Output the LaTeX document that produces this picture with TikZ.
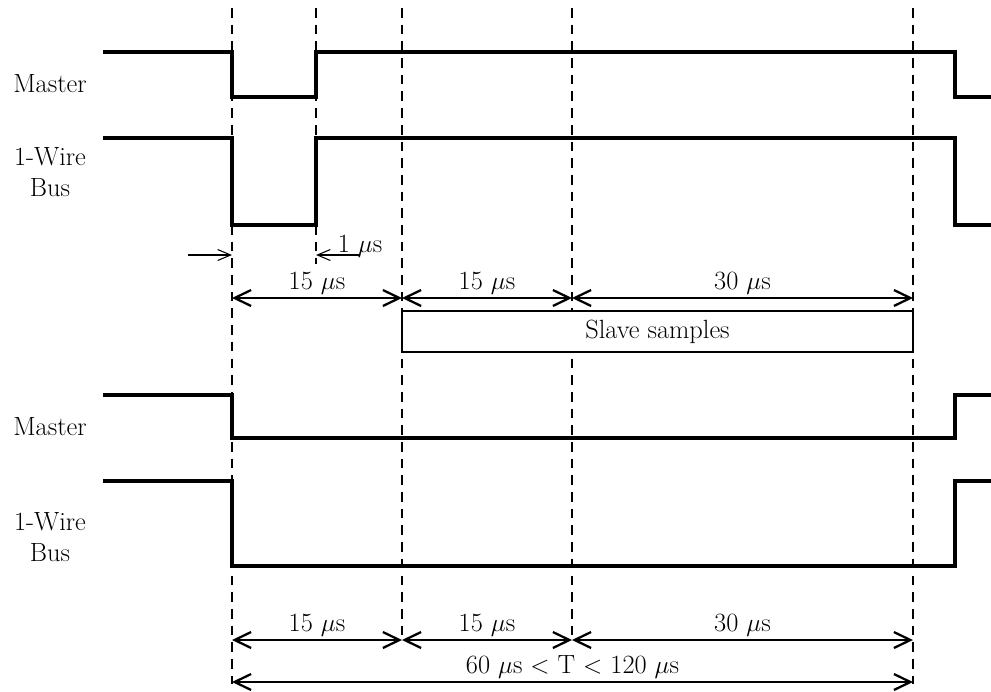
\documentclass[tikz,border=0pt]{standalone}
\usepackage{tikz}
\usetikzlibrary{arrows.meta}
\tikzstyle{signal} = [
    line width=1.9pt,
    line join=miter
]
\tikzstyle{marker} = [
    line width=1pt,
    dash pattern=on 5.5pt off 4pt
]
\tikzstyle{dimension} = [
    line width=1.3pt,
    {Straight Barb[length=3.3mm,width=3.2mm]}-{Straight Barb[length=3.3mm,width=3.2mm]}
]
\tikzstyle{pointer} = [
    line width=0.6pt,
    -{Straight Barb[length=2.6mm,width=2.2mm]}
]
\tikzstyle{signame} = [
    align=center
]

\begin{document}
\begin{tikzpicture}[x=0.02cm, y=-0.02cm, font=\fontsize{15}{17.5}\selectfont]
        \useasboundingbox (0,0) rectangle (991,691);

        % Time markers
        \foreach \x in {232,913}
            \draw[marker] (\x,8) -- (\x,684);
        \foreach \x in {402,572}
            \draw[marker] (\x,8) -- (\x,642);
        \draw[marker] (316,8) -- (316,264);

        % Read 1 slot
        \node[signame] (master1) at (50,84) {Master};
        \node[signame] (bus1) at (50,172) {1-Wire\\Bus};
        \draw[signal] (103,52) -- (232,52) -- (232,97) -- (316,97) -- (316,52)
            -- (955,52) -- (955,97) -- (991,97);
        \draw[signal] (103,138) -- (232,138) -- (232,225) -- (316,225) -- (316,138)
            -- (955,138) -- (955,225) -- (991,225);

        % Read 0 slot
        \node[signame] (master0) at (50,427) {Master};
        \node[signame] (bus0) at (50,537) {1-Wire\\Bus};
        \draw[signal] (103,395) -- (232,395) -- (232,438) -- (955,438) -- (955,395) -- (991,395);
        \draw[signal] (103,481) -- (232,481) -- (232,566) -- (955,566) -- (955,481) -- (991,481);

        % Pulse width
        \coordinate (pstart) at (188,255);
        \coordinate (pfall) at (232,255);
        \coordinate (prise) at (316,255);
        \coordinate (pend) at (360,255);
        \draw[pointer] (pstart) -- (pfall);
        \draw[pointer] (pend) -- (prise);
        \node[anchor=base, inner sep=0pt] (pwidth) at (360,252) {1 $\mu$s};

        % Timing dimensions
        \foreach \x [count=\i] in {232,402,572,913} {
            \coordinate (a\i) at (\x,298);
            \coordinate (b\i) at (\x,640);
        }
        \coordinate (c1) at (232,682);
        \coordinate (c2) at (913,682);
        \draw[dimension] (a1) -- node[above, inner sep=1.5pt]{15 $\mu$s} (a2);
        \draw[dimension] (a2) -- node[above, inner sep=1.5pt]{15 $\mu$s} (a3);
        \draw[dimension] (a3) -- node[above, inner sep=1.5pt]{30 $\mu$s} (a4);
        \draw[dimension] (b1) -- node[above, inner sep=1.5pt]{15 $\mu$s} (b2);
        \draw[dimension] (b2) -- node[above, inner sep=1.5pt]{15 $\mu$s} (b3);
        \draw[dimension] (b3) -- node[above, inner sep=1.5pt]{30 $\mu$s} (b4);
        \draw[dimension] (c1) -- node[above, inner sep=1.5pt]{60 $\mu$s $<$ T $<$ 120 $\mu$s} (c2);

        % Sampling window
        \node[draw, fill=white, line width=0.7pt, minimum width=10.22cm, minimum height=0.82cm,
            inner sep=0pt] (samples) at (657.5,331.5) {Slave samples};
    \end{tikzpicture}
\end{document}
